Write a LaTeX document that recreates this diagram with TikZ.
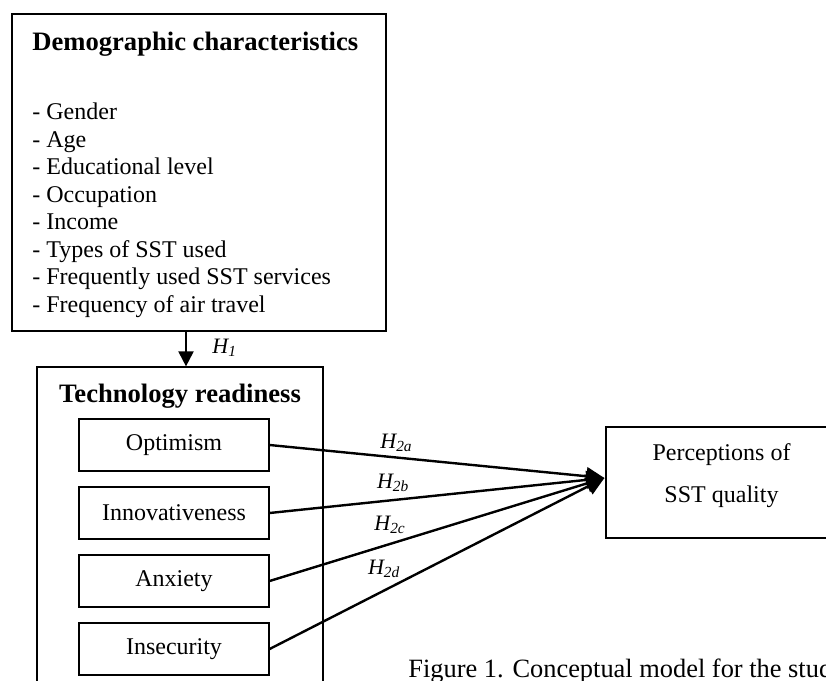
\documentclass[tikz,border=0pt]{standalone}
\usepackage{fontspec}
\setmainfont{Liberation Serif}
\usetikzlibrary{arrows.meta, positioning, calc}

\tikzset{
  box/.style={draw=black, line width=0.6pt, inner sep=0pt},
  factor/.style={box, minimum width=95pt, minimum height=26pt, font=\fontsize{12}{14}\selectfont},
  heading/.style={font=\fontsize{13.3}{16}\selectfont\bfseries, inner sep=0pt},
  body/.style={font=\fontsize{12}{14}\selectfont, inner sep=0pt},
  hyp/.style={font=\fontsize{11}{13}\selectfont\itshape, inner sep=0pt, anchor=base west},
  conn/.style={-{Triangle[length=9pt, width=9pt]}, line width=1.2pt},
}

\begin{document}
\begin{tikzpicture}[x=0.5pt, y=-0.5pt]
  \useasboundingbox (0,0) rectangle (826,681);
  \clip (0,0) rectangle (826,681);

  % --- Demographic characteristics ---
  \node[box, minimum width=187pt, minimum height=158.5pt] (demo) at (199,172.5) {};
  \node[heading, anchor=base west] (demotitle) at (32,50) {Demographic characteristics};
  \foreach \txt [count=\i from 0] in {Gender, Age, Educational level, Occupation, Income, Types of SST used, Frequently used SST services, Frequency of air travel}
    \node[body, anchor=base west] (item\i) at (32,{119.5+27.5*\i}) {- \txt};

  % --- Technology readiness ---
  \node[box, minimum width=143pt, minimum height=166.5pt] (ready) at (180,533.5) {};
  \node[heading, anchor=base] (readytitle) at (180,402) {Technology readiness};
  \node[factor] (opt) at (174,445) {Optimism};
  \node[factor, below=7.4pt of opt] (inno) {Innovativeness};
  \node[factor, below=7.4pt of inno] (anx) {Anxiety};
  \node[factor, below=7.4pt of anx] (insec) {Insecurity};

  % --- H1 ---
  \coordinate (h1from) at ($(demo.south)+(-13,0)$);
  \draw[-{Triangle[length=7.5pt, width=7.5pt]}, line width=1pt] (h1from) -- (h1from |- ready.north);
  \node[hyp] (h1) at (212,353) {H\textsubscript{1}};

  % --- Perceptions of SST quality ---
  \node[box, minimum width=147pt, minimum height=55.5pt] (perc) at (753,482.5) {};
  \node[body, anchor=base] (perctop) at (721.5,460) {Perceptions of};
  \node[body, anchor=base] (percbot) at (721.5,502) {SST quality};

  % --- H2 arrows ---
  \coordinate (tip) at ($(perc.west)+(-1,-4.5)$);
  \foreach \src in {opt, inno, anx, insec}
    \draw[conn] (\src.east) -- (tip);
  \node[hyp] (h2a) at (380,448) {H\textsubscript{2a}};
  \node[hyp] (h2b) at (376.7,488) {H\textsubscript{2b}};
  \node[hyp] (h2c) at (374,530) {H\textsubscript{2c}};
  \node[hyp] (h2d) at (367.7,574) {H\textsubscript{2d}};

  % caption (cut off at the right edge, as in the source)
  \node[font=\fontsize{13.2}{16}\selectfont, inner sep=0pt, anchor=base west] (caption) at (408,677) {Figure 1. Conceptual model for the study};
\end{tikzpicture}
\end{document}
